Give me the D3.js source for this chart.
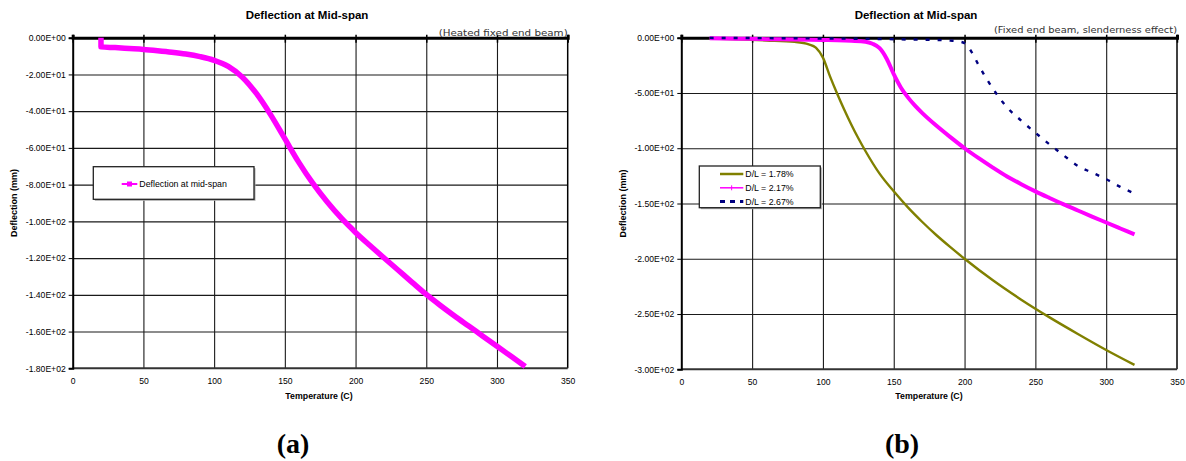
<!DOCTYPE html>
<html><head><meta charset="utf-8">
<script src="https://cdn.jsdelivr.net/npm/d3@7"></script>
<style>body{margin:0;background:#fff}svg{display:block}</style>
</head><body>
<svg id="c" width="1186" height="461"></svg>
<script>
// ---------- data ----------
const xTicks = [0, 50, 100, 150, 200, 250, 300, 350];
const yTicksA = [0, -20, -40, -60, -80, -100, -120, -140, -160, -180];
const yTicksB = [0, -50, -100, -150, -200, -250, -300];

// panel (a): heated fixed end beam
const tempA = [20, 20, 30, 40, 50, 60, 70, 80, 90, 100, 110, 120, 130, 140, 150, 160, 170, 180, 190, 200, 210, 220, 230, 240, 250, 260, 270, 280, 290, 300, 310, 320];
const deflA = [0, -5, -5.4, -5.9, -6.4, -7.1, -7.9, -8.9, -10.3, -12.3, -15.6, -21.5, -30.5, -42, -55, -68, -79.5, -89.5, -98.3, -106, -113, -119.8, -126.5, -133.2, -139.8, -145.8, -151.5, -157, -162.5, -168, -173.5, -179];

// panel (b): slenderness effect
const temp178 = [20, 40, 60, 80, 90, 95, 100, 105, 110, 115, 120, 125, 130, 140, 150, 160, 170, 180, 190, 200, 220, 240, 260, 280, 300, 320];
const defl178 = [-0.8, -1.5, -2.5, -3.8, -6, -9, -18, -35, -50.5, -65, -78.5, -91, -102.5, -123, -139, -153.5, -166.5, -178.5, -189.5, -200, -219.5, -237, -253, -268, -282.5, -296];

const temp217 = [20, 40, 60, 80, 100, 110, 120, 130, 135, 140, 145, 150, 155, 160, 165, 170, 180, 190, 200, 210, 220, 230, 240, 250, 260, 270, 280, 290, 300, 310, 320];
const defl217 = [-0.5, -0.9, -1.3, -1.6, -2, -2.3, -2.8, -3.6, -5.5, -9.5, -19, -33, -45, -54, -61.5, -68, -79.5, -90, -100, -109, -117.5, -125.5, -132.5, -139, -145, -150.8, -156.3, -161.8, -167.2, -172.6, -178];

const temp267 = [20, 60, 100, 140, 160, 180, 190, 195, 200, 205, 210, 215, 220, 230, 240, 250, 260, 270, 280, 290, 300, 310, 320];
const defl267 = [-0.2, -0.4, -0.7, -1.2, -1.6, -2, -2.6, -3.2, -5, -13, -25, -36, -46, -63, -75, -86, -96.5, -106.5, -116, -122, -128, -135, -141];

const legendA = ["Deflection at mid-span"];
const legendB = ["D/L = 1.78%", "D/L = 2.17%", "D/L = 2.67%"];

// ---------- helpers ----------
const svg = d3.select("#c");
const SANS = "Liberation Sans, Arial, sans-serif";

function fmtE(v) {
  if (v === 0) return "0.00E+00";
  let s = v.toExponential(2).toUpperCase();
  return s.replace(/E([+-])(\d)$/, "E$10$2");
}

function panel(o) {
  const g = svg.append("g");
  const x = d3.scaleLinear().domain([0, 350]).range([o.left, o.right]);
  const y = d3.scaleLinear().domain([o.yMin, 0]).range([o.bottom, o.top]);
  const W = o.right - o.left, H = o.bottom - o.top;

  // grid via axes
  const gx = g.append("g").attr("transform", `translate(0,${o.bottom})`)
    .call(d3.axisBottom(x).tickValues(xTicks.slice(1, -1)).tickSize(-H).tickFormat(""));
  gx.select(".domain").remove();
  gx.selectAll(".tick line").attr("stroke", "#1a1a1a").attr("stroke-width", 1.1);
  const gy = g.append("g").attr("transform", `translate(${o.left},0)`)
    .call(d3.axisLeft(y).tickValues(o.yTicks.slice(1, -1)).tickSize(-W).tickFormat(""));
  gy.select(".domain").remove();
  gy.selectAll(".tick line").attr("stroke", "#1a1a1a").attr("stroke-width", 1.1);

  // frame: right & bottom
  g.append("line").attr("x1", o.right).attr("x2", o.right).attr("y1", o.top).attr("y2", o.bottom)
    .style("stroke", "#000").style("stroke-width", "1.5px");
  g.append("line").attr("x1", o.left).attr("x2", o.right).attr("y1", o.bottom).attr("y2", o.bottom)
    .style("stroke", "#333").style("stroke-width", "2px");

  // left axis
  const ya = g.append("g").attr("transform", `translate(${o.left},0)`)
    .call(d3.axisLeft(y).tickValues(o.yTicks).tickFormat(fmtE).tickSize(4).tickPadding(3));
  ya.select(".domain").style("stroke", "#000").style("stroke-width", "2px");
  ya.selectAll(".tick line").style("stroke", "#000");
  ya.selectAll("text").style("font-family", SANS).style("font-size", "8.6px").style("fill", "#000");

  // bottom labels
  const xb = g.append("g").attr("transform", `translate(0,${o.bottom})`)
    .call(d3.axisBottom(x).tickValues(xTicks).tickSize(0).tickPadding(10));
  xb.select(".domain").remove();
  xb.selectAll("text").style("font-family", SANS).style("font-size", "8.6px").style("fill", "#000");

  // top axis (value 0) with cross ticks
  const xt = g.append("g").attr("transform", `translate(0,${y(0)})`)
    .call(d3.axisTop(x).tickValues(xTicks).tickSize(3).tickFormat(""));
  xt.select(".domain").style("stroke", "#000").style("stroke-width", "3px");
  xt.selectAll(".tick line").style("stroke", "#000").style("stroke-width", "1.5px");
  const xt2 = g.append("g").attr("transform", `translate(0,${y(0)})`)
    .call(d3.axisBottom(x).tickValues(xTicks).tickSize(5).tickFormat(""));
  xt2.select(".domain").remove();
  xt2.selectAll(".tick line").style("stroke", "#000").style("stroke-width", "1.5px");

  // series
  const line = d3.line().x(d => x(d[0])).y(d => y(d[1])).curve(d3.curveMonotoneX);
  o.series.forEach(s => {
    const pts = s.t.map((t, i) => [t, s.d[i]]);
    g.append("path").datum(pts)
      .attr("d", line(pts))
      .style("fill", "none").style("stroke", s.color).style("stroke-width", s.width + "px")
      .style("stroke-dasharray", s.dash || null)
      .style("stroke-linejoin", "round");
  });

  // titles
  g.append("text").attr("x", o.titleX).attr("y", 19).attr("text-anchor", "middle")
    .style("font-family", SANS).style("font-weight", "bold").style("font-size", "11.5px").text(o.title);
  g.append("text").attr("x", o.right).attr("y", o.subY).attr("text-anchor", "end")
    .style("font-family", "DejaVu Sans, sans-serif").style("font-size", "9.5px")
    .attr("textLength", o.subLen).attr("lengthAdjust", "spacingAndGlyphs")
    .style("fill", "#333").text(o.sub);
  g.append("text").attr("x", o.xTitleX).attr("y", 399).attr("text-anchor", "middle")
    .style("font-family", SANS).style("font-weight", "bold").style("font-size", "8.8px").text("Temperature (C)");
  g.append("text").attr("transform", `translate(${o.yTitleX},${(o.top + o.bottom) / 2}) rotate(-90)`)
    .attr("text-anchor", "middle").attr("dy", "0.35em")
    .style("font-family", SANS).style("font-weight", "bold").style("font-size", "9px").text("Deflection (mm)");
  g.append("text").attr("x", o.labelX).attr("y", 453).attr("text-anchor", "middle")
    .style("font-family", "Liberation Serif, Times New Roman, serif").style("font-weight", "bold")
    .style("font-size", "28px").text(o.label);

  // legend
  const L = o.legend;
  const lg = g.append("g");
  lg.append("rect").attr("x", L.x + 1.5).attr("y", L.y + 1.5).attr("width", L.w).attr("height", L.h)
    .style("fill", "#aaa");
  lg.append("rect").attr("x", L.x).attr("y", L.y).attr("width", L.w).attr("height", L.h)
    .style("fill", "#fff").style("stroke", "#222").style("stroke-width", "1.3px");
  L.items.forEach((name, i) => {
    const s = o.series[i];
    const cy = L.y + L.first + i * L.step;
    lg.append("line").attr("x1", L.x + L.lx1).attr("x2", L.x + L.lx2).attr("y1", cy).attr("y2", cy)
      .style("stroke", s.color).style("stroke-width", (s.legW || 2.5) + "px").style("stroke-dasharray", s.legDash || null);
    if (s.marker === "square") {
      lg.append("rect").attr("x", L.x + (L.lx1 + L.lx2) / 2 - 2.5).attr("y", cy - 2.5)
        .attr("width", 5).attr("height", 5).style("fill", s.color);
    } else if (s.marker === "plus") {
      const mx = L.x + (L.lx1 + L.lx2) / 2;
      lg.append("line").attr("x1", mx).attr("x2", mx).attr("y1", cy - 2.5).attr("y2", cy + 2.5)
        .style("stroke", s.color).style("stroke-width", "1px");
    }
    lg.append("text").attr("x", L.x + L.tx).attr("y", cy).attr("dy", "0.35em")
      .style("font-family", SANS).style("font-size", "8.8px").text(name);
  });
}

panel({
  left: 72.7, right: 567.7, top: 37.7, bottom: 368.3, yMin: -180, yTicks: yTicksA,
  title: "Deflection at Mid-span", titleX: 307,
  sub: "(Heated fixed end beam)", subY: 35.5, subLen: 129,
  xTitleX: 319, yTitleX: 14, label: "(a)", labelX: 293,
  series: [{ t: tempA, d: deflA, color: "#FF00FF", width: 5.5, legW: 2, marker: "square" }],
  legend: { x: 93.3, y: 166.7, w: 160.7, h: 32.6, first: 17.3, step: 0, lx1: 28.4, lx2: 44, tx: 46, items: legendA }
});

panel({
  left: 681.3, right: 1177, top: 37.7, bottom: 369.3, yMin: -300, yTicks: yTicksB,
  title: "Deflection at Mid-span", titleX: 916,
  sub: "(Fixed end beam, slenderness effect)", subY: 32.5, subLen: 183,
  xTitleX: 929, yTitleX: 623, label: "(b)", labelX: 902,
  series: [
    { t: temp178, d: defl178, color: "#808000", width: 2.4, legW: 2.5 },
    { t: temp217, d: defl217, color: "#FF00FF", width: 4, legW: 1.5, marker: "plus" },
    { t: temp267, d: defl267, color: "#000080", width: 2.4, dash: "4,8", legW: 3, legDash: "5,5" }
  ],
  legend: { x: 699.3, y: 166, w: 121, h: 41.7, first: 8, step: 13.8, lx1: 20.7, lx2: 44, tx: 46, items: legendB }
});
</script>
</body></html>
